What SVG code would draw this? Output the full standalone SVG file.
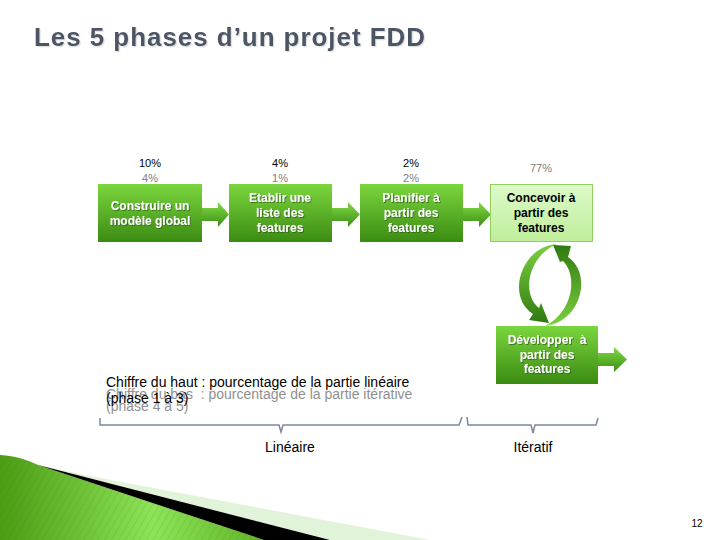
<svg xmlns="http://www.w3.org/2000/svg" width="720" height="540" viewBox="0 0 720 540">
<defs>
  <linearGradient id="gBox" x1="0" y1="0" x2="0" y2="1">
    <stop offset="0" stop-color="#7bd63e"/>
    <stop offset="1" stop-color="#3b8b12"/>
  </linearGradient>
  <linearGradient id="gLight" x1="0" y1="0" x2="0" y2="1">
    <stop offset="0" stop-color="#ddf9c9"/>
    <stop offset="1" stop-color="#bfee9b"/>
  </linearGradient>
  <linearGradient id="gArrow" x1="0" y1="0" x2="0" y2="1">
    <stop offset="0" stop-color="#82da44"/>
    <stop offset="1" stop-color="#3c8e14"/>
  </linearGradient>
  <linearGradient id="gCircL" x1="0" y1="0" x2="0" y2="1">
    <stop offset="0" stop-color="#7cd040"/>
    <stop offset="1" stop-color="#2f7a10"/>
  </linearGradient>
  <linearGradient id="gCircR" x1="0" y1="1" x2="0" y2="0">
    <stop offset="0" stop-color="#7cd040"/>
    <stop offset="1" stop-color="#2f7a10"/>
  </linearGradient>
  <linearGradient id="gDeco" gradientUnits="userSpaceOnUse" x1="0" y1="0" x2="280" y2="0">
    <stop offset="0" stop-color="#4c9c14"/>
    <stop offset="0.55" stop-color="#8ee458"/>
    <stop offset="1" stop-color="#58ae1e"/>
  </linearGradient>
  <pattern id="stripes" width="6" height="6" patternUnits="userSpaceOnUse" patternTransform="rotate(30)">
    <line x1="0" y1="0" x2="0" y2="6" stroke="#2d6a08" stroke-width="1" opacity="0.25"/>
  </pattern>
  <filter id="tshadow" x="-10%" y="-10%" width="130%" height="140%">
    <feDropShadow dx="1" dy="1" stdDeviation="0.4" flood-color="#2a5a08" flood-opacity="0.7"/>
  </filter>
  <filter id="titleShadow" x="-5%" y="-20%" width="110%" height="150%">
    <feDropShadow dx="1.2" dy="1.2" stdDeviation="0.6" flood-color="#c8c8c8" flood-opacity="0.6"/>
  </filter>
  <style>
    .title { font-family: "Liberation Sans", Arial, sans-serif; font-size: 26px; font-weight: bold; fill: #4b5566; }
    .box { fill: url(#gBox); }
    .boxLight { fill: url(#gLight); stroke: #8fd05e; stroke-width: 1; }
    .btxt { font-family: "Liberation Sans", Arial, sans-serif; font-size: 12px; font-weight: bold; fill: #ffffff; text-anchor: middle; }
    .btxtDark { font-family: "Liberation Sans", Arial, sans-serif; font-size: 12px; font-weight: bold; fill: #000000; text-anchor: middle; }
    .pTop { font-family: "Liberation Sans", Arial, sans-serif; font-size: 11px; fill: #000000; text-anchor: middle; }
    .pBot { font-family: "Liberation Sans", Arial, sans-serif; font-size: 11px; fill: #808080; text-anchor: middle; }
    .leg { font-family: "Liberation Sans", Arial, sans-serif; font-size: 14px; fill: #000000; }
    .legGray { font-family: "Liberation Sans", Arial, sans-serif; font-size: 14px; fill: #8f8f8f; }
    .brace { fill: none; stroke: #7d879a; stroke-width: 1.5; }
    .arrow { fill: url(#gArrow); }
  </style>
</defs>

<rect x="0" y="0" width="720" height="540" fill="#ffffff"/>

<!-- bottom-left decoration -->
<g id="decoration">
  <path d="M95,477 L430,540 L330,540 L38,465 Z" fill="#e1f3d9"/>
  <path d="M0,455 C16,456 28,460 38,465 L264,540 L0,540 Z" fill="url(#gDeco)"/>
  <path d="M0,455 C16,456 28,460 38,465 L264,540 L0,540 Z" fill="url(#stripes)"/>
  <path d="M38,465 L330,540 L264,540 Z" fill="#000000"/>
</g>

<text class="title" x="34" y="46" textLength="391" lengthAdjust="spacing" filter="url(#titleShadow)">Les 5 phases d’un projet FDD</text>

<!-- connectors -->
<g id="connectors">
  <path class="arrow" d="M202,208 L218,208 L218,202 L229,214.5 L218,227 L218,221 L202,221 Z"/>
  <path class="arrow" d="M332,208 L348,208 L348,202 L360,214.5 L348,227 L348,221 L332,221 Z"/>
  <path class="arrow" d="M463,208 L479,208 L479,202 L491,214.5 L479,227 L479,221 L463,221 Z"/>
  <path class="arrow" d="M598,353 L614,353 L614,347 L627,359.5 L614,372 L614,366 L598,366 Z"/>
  <path id="cycleLeft" fill="url(#gCircL)" d="M557,244 C522,246 505,296 533,314 L529,320 L549,323 L541,303 L539,308 C521,294 528,256 557,244 Z"/>
  <path id="cycleRight" fill="url(#gCircR)" d="M545,326 C581,322 593,274 568,257 L571,246 L553,245 L560,262 L563,261 C578,276 573,312 545,326 Z"/>
</g>

<!-- phase 1 -->
<g id="phase1">
  <text class="pTop" x="150" y="167">10%</text>
  <text class="pBot" x="150" y="182">4%</text>
  <rect class="box" x="98" y="184" width="104" height="58"/>
  <g filter="url(#tshadow)">
    <text class="btxt" x="150" y="210">Construire un</text>
    <text class="btxt" x="150" y="225">modèle global</text>
  </g>
</g>

<!-- phase 2 -->
<g id="phase2">
  <text class="pTop" x="280" y="167">4%</text>
  <text class="pBot" x="280" y="182">1%</text>
  <rect class="box" x="229" y="184" width="103" height="58"/>
  <g filter="url(#tshadow)">
    <text class="btxt" x="280" y="202">Etablir une</text>
    <text class="btxt" x="280" y="217">liste des</text>
    <text class="btxt" x="280" y="232">features</text>
  </g>
</g>

<!-- phase 3 -->
<g id="phase3">
  <text class="pTop" x="411" y="167">2%</text>
  <text class="pBot" x="411" y="182">2%</text>
  <rect class="box" x="360" y="184" width="103" height="58"/>
  <g filter="url(#tshadow)">
    <text class="btxt" x="411" y="202">Planifier à</text>
    <text class="btxt" x="411" y="217">partir des</text>
    <text class="btxt" x="411" y="232">features</text>
  </g>
</g>

<!-- phase 4 -->
<g id="phase4">
  <text class="pBot" x="541" y="172">77%</text>
  <rect class="boxLight" x="490.5" y="184.5" width="102" height="57"/>
  <text class="btxtDark" x="541" y="202">Concevoir à</text>
  <text class="btxtDark" x="541" y="217">partir des</text>
  <text class="btxtDark" x="541" y="232">features</text>
</g>

<!-- phase 5 -->
<g id="phase5">
  <rect class="box" x="496" y="326" width="102" height="58"/>
  <g filter="url(#tshadow)">
    <text class="btxt" x="547" y="344" xml:space="preserve">Développer  à</text>
    <text class="btxt" x="547" y="358.5">partir des</text>
    <text class="btxt" x="547" y="373">features</text>
  </g>
</g>

<!-- legend -->
<g id="legend">
  <text class="legGray" x="106" y="399" xml:space="preserve">Chiffre du bas  : pourcentage de la partie itérative</text>
  <text class="legGray" x="106" y="411">(phase 4 à 5)</text>
  <text class="leg" x="106" y="387">Chiffre du haut : pourcentage de la partie linéaire</text>
  <text class="leg" x="106" y="403">(phase 1 à 3)</text>
</g>

<!-- braces -->
<g id="braceLineaire">
  <path class="brace" d="M100,418 L100,425 L279,425 L281,432 L283,425 L459,425 L462,417"/>
  <text class="leg" x="290" y="452" text-anchor="middle">Linéaire</text>
</g>
<g id="braceIteratif">
  <path class="brace" d="M467,417 L468,425 L531,425 L533,433 L535,425 L596,425 L598,418"/>
  <text class="leg" x="533" y="452" text-anchor="middle">Itératif</text>
</g>

<text x="697" y="527" font-family="Liberation Sans, Arial, sans-serif" font-size="10" text-anchor="middle" fill="#000000">12</text>
</svg>
